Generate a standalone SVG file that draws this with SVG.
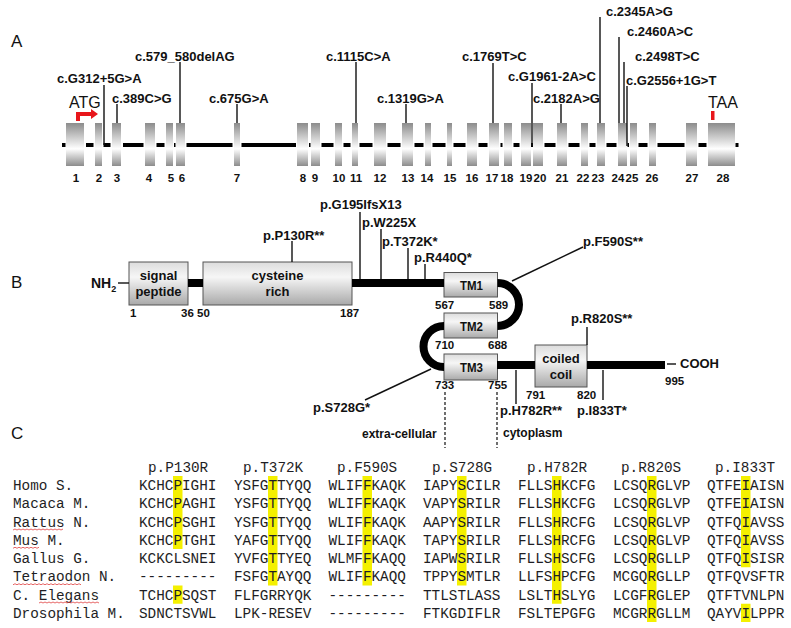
<svg xmlns="http://www.w3.org/2000/svg" width="791" height="628" viewBox="0 0 791 628">
<defs>
<linearGradient id="exg" x1="0" y1="0" x2="0" y2="1">
<stop offset="0" stop-color="#8c8c8c"/>
<stop offset="0.6" stop-color="#ffffff"/>
<stop offset="1" stop-color="#8c8c8c"/>
</linearGradient>
<linearGradient id="boxg" x1="0" y1="0" x2="0" y2="1">
<stop offset="0" stop-color="#dcdcdc"/>
<stop offset="0.35" stop-color="#f6f6f6"/>
<stop offset="1" stop-color="#a9a9a9"/>
</linearGradient>
</defs>
<style>
.lbl{font-family:"Liberation Sans",Arial,sans-serif;font-weight:bold;font-size:13px;fill:#111}
.num{font-family:"Liberation Sans",Arial,sans-serif;font-weight:bold;font-size:11.5px;fill:#111}
.tm{font-family:"Liberation Sans",Arial,sans-serif;font-weight:bold;font-size:13.5px;fill:#111}
.pan{font-family:"Liberation Sans",Arial,sans-serif;font-size:17px;fill:#111}
.big{font-family:"Liberation Sans",Arial,sans-serif;font-size:16px;fill:#111}
.mono{font-family:"Liberation Mono","Courier New",monospace;font-size:14.33px;fill:#1e1e24}
.ex{fill:url(#exg)}
.intr{fill:#000}
.ml{stroke:#111;stroke-width:1.4;fill:none}
.bb{stroke:#000;stroke-width:8;fill:none}
.box{fill:url(#boxg);stroke:#555;stroke-width:1}
.dash{stroke:#222;stroke-width:1.3;stroke-dasharray:3,2;fill:none}
.hl{fill:#f4f000}
.sq{stroke:#e04040;stroke-width:0.8;fill:none}
.red{fill:#e8161b}
</style>
<rect width="791" height="628" fill="#fff"/>

<!-- Panel letters -->
<text class="pan" x="11" y="47">A</text>
<text class="pan" x="11" y="288">B</text>
<text class="pan" x="11" y="439">C</text>

<!-- Panel A: gene structure -->
<g id="gene-line">
<rect class="intr" x="62" y="143" width="3.5" height="4"/>
<rect class="intr" x="86" y="143" width="7.5" height="4"/>
<rect class="intr" x="103.5" y="143" width="7" height="4"/>
<rect class="intr" x="123" y="143" width="20.5" height="4"/>
<rect class="intr" x="156.5" y="143" width="8" height="4"/>
<rect class="intr" x="174" y="143" width="1.5" height="4"/>
<rect class="intr" x="186.5" y="143" width="46" height="4"/>
<rect class="intr" x="241.5" y="143" width="54.5" height="4"/>
<rect class="intr" x="309" y="143" width="1.5" height="4"/>
<rect class="intr" x="321.5" y="143" width="12" height="4"/>
<rect class="intr" x="343.5" y="143" width="7" height="4"/>
<rect class="intr" x="359.5" y="143" width="13" height="4"/>
<rect class="intr" x="387.5" y="143" width="13" height="4"/>
<rect class="intr" x="414.5" y="143" width="9" height="4"/>
<rect class="intr" x="432.5" y="143" width="13" height="4"/>
<rect class="intr" x="453.5" y="143" width="12" height="4"/>
<rect class="intr" x="478.5" y="143" width="9" height="4"/>
<rect class="intr" x="500.5" y="143" width="2" height="4"/>
<rect class="intr" x="513.5" y="143" width="6" height="4"/>
<rect class="intr" x="531" y="143" width="2" height="4"/>
<rect class="intr" x="544.5" y="143" width="11" height="4"/>
<rect class="intr" x="568.5" y="143" width="11" height="4"/>
<rect class="intr" x="589.5" y="143" width="6" height="4"/>
<rect class="intr" x="606.5" y="143" width="10" height="4"/>
<rect class="intr" x="627.5" y="143" width="1.5" height="4"/>
<rect class="intr" x="638.5" y="143" width="9" height="4"/>
<rect class="intr" x="657.5" y="143" width="27" height="4"/>
<rect class="intr" x="698.5" y="143" width="8" height="4"/>
<rect class="intr" x="735.5" y="143" width="3" height="4"/>
</g>

<g id="exons">
<rect class="ex" x="66" y="123" width="18" height="43"/>
<rect class="ex" x="95" y="123" width="7" height="43"/>
<rect class="ex" x="112" y="123" width="9" height="43"/>
<rect class="ex" x="145" y="123" width="10" height="43"/>
<rect class="ex" x="166" y="123" width="7" height="43"/>
<rect class="ex" x="176" y="123" width="9" height="43"/>
<rect class="ex" x="234" y="123" width="6" height="43"/>
<rect class="ex" x="297" y="123" width="11" height="43"/>
<rect class="ex" x="311" y="123" width="9" height="43"/>
<rect class="ex" x="335" y="123" width="7" height="43"/>
<rect class="ex" x="352" y="123" width="6" height="43"/>
<rect class="ex" x="374" y="123" width="12" height="43"/>
<rect class="ex" x="402" y="123" width="11" height="43"/>
<rect class="ex" x="425" y="123" width="6" height="43"/>
<rect class="ex" x="447" y="123" width="5" height="43"/>
<rect class="ex" x="467" y="123" width="10" height="43"/>
<rect class="ex" x="489" y="123" width="10" height="43"/>
<rect class="ex" x="504" y="123" width="8" height="43"/>
<rect class="ex" x="521" y="123" width="10" height="43"/>
<rect class="ex" x="533" y="123" width="10" height="43"/>
<rect class="ex" x="557" y="123" width="10" height="43"/>
<rect class="ex" x="581" y="123" width="7" height="43"/>
<rect class="ex" x="597" y="123" width="8" height="43"/>
<rect class="ex" x="618" y="123" width="9" height="43"/>
<rect class="ex" x="630" y="123" width="7" height="43"/>
<rect class="ex" x="649" y="123" width="7" height="43"/>
<rect class="ex" x="686" y="123" width="11" height="43"/>
<rect class="ex" x="708" y="123" width="27" height="43"/>
</g>

<g id="exon-numbers" class="num" text-anchor="middle">
<text x="76" y="182">1</text><text x="99" y="182">2</text><text x="117" y="182">3</text>
<text x="149" y="182">4</text><text x="171" y="182">5</text><text x="182" y="182">6</text>
<text x="237" y="182">7</text><text x="303" y="182">8</text><text x="315" y="182">9</text>
<text x="339" y="182">10</text><text x="356" y="182">11</text><text x="380" y="182">12</text>
<text x="408" y="182">13</text><text x="427" y="182">14</text><text x="450" y="182">15</text>
<text x="472" y="182">16</text><text x="492" y="182">17</text><text x="507" y="182">18</text>
<text x="526" y="182">19</text><text x="540" y="182">20</text><text x="562" y="182">21</text>
<text x="583" y="182">22</text><text x="598" y="182">23</text><text x="618" y="182">24</text>
<text x="632" y="182">25</text><text x="652" y="182">26</text><text x="692" y="182">27</text>
<text x="723" y="182">28</text>
</g>

<g id="start-stop">
<text class="big" x="69" y="108">ATG</text>
<rect class="red" x="76" y="112" width="4" height="9"/>
<rect class="red" x="76" y="112" width="16" height="4"/>
<polygon class="red" points="91,109 98,114 91,119"/>
<text class="big" x="708" y="108">TAA</text>
<rect class="red" x="711" y="111" width="3.5" height="9"/>
</g>

<g id="dna-mutations" class="lbl">
<text x="57" y="83">c.G312+5G&gt;A</text>
<text x="112" y="103">c.389C&gt;G</text>
<text x="135" y="61">c.579_580delAG</text>
<text x="209" y="103">c.675G&gt;A</text>
<text x="326" y="61">c.1115C&gt;A</text>
<text x="377" y="103">c.1319G&gt;A</text>
<text x="462" y="61">c.1769T&gt;C</text>
<text x="508" y="81">c.G1961-2A&gt;C</text>
<text x="533" y="103">c.2182A&gt;G</text>
<text x="606" y="16">c.2345A&gt;G</text>
<text x="627" y="36">c.2460A&gt;C</text>
<text x="635" y="61">c.2498T&gt;C</text>
<text x="626" y="84.5">c.G2556+1G&gt;T</text>
</g>

<!-- Panel B: protein -->
<g id="nh2">
<text class="lbl" x="91" y="288" style="font-size:14px">NH<tspan dy="4" style="font-size:9px">2</tspan></text>
</g>
<g id="signal-peptide">
<rect class="box" x="129" y="262" width="59" height="43"/>
<text class="lbl" x="158.5" y="280" text-anchor="middle">signal</text>
<text class="lbl" x="158.5" y="296" text-anchor="middle">peptide</text>
</g>
<g id="cysteine-rich">
<rect class="box" x="203" y="262" width="149" height="43"/>
<text class="lbl" x="277.5" y="280" text-anchor="middle">cysteine</text>
<text class="lbl" x="277.5" y="296" text-anchor="middle">rich</text>
</g>
<g id="tm1">
<rect class="box" x="444" y="272.5" width="53.5" height="24.5"/>
<text class="tm" x="460" y="289.5" textLength="23" lengthAdjust="spacingAndGlyphs">TM1</text>
</g>
<g id="tm2">
<rect class="box" x="444" y="313" width="53.5" height="25"/>
<text class="tm" x="460" y="330.5" textLength="23" lengthAdjust="spacingAndGlyphs">TM2</text>
</g>
<g id="tm3">
<rect class="box" x="444" y="354" width="53.5" height="26"/>
<text class="tm" x="460" y="372" textLength="23" lengthAdjust="spacingAndGlyphs">TM3</text>
</g>
<g id="coiled-coil">
<rect class="box" x="535" y="345" width="52" height="42"/>
<text class="lbl" x="561" y="363" text-anchor="middle">coiled</text>
<text class="lbl" x="561" y="379" text-anchor="middle">coil</text>
</g>
<g id="cooh">
<text class="lbl" x="680" y="368">COOH</text>
</g>

<g id="connectors">
<line class="ml" x1="118" y1="283" x2="129" y2="283"/>
<line class="bb" x1="188" y1="283" x2="203" y2="283"/>
<line class="bb" x1="352" y1="283" x2="444" y2="283"/>
<path class="bb" d="M497.5,283 A21.5,21.5 0 0 1 497.5,326"/>
<path class="bb" d="M444,326 A20.5,20.5 0 0 0 444,367"/>
<line class="bb" x1="497" y1="365" x2="535" y2="365"/>
<line class="bb" x1="587" y1="365" x2="665" y2="365"/>
<line class="ml" x1="667" y1="364" x2="676" y2="364"/>
<line class="dash" x1="445" y1="392" x2="445" y2="448"/>
<line class="dash" x1="497" y1="392" x2="497" y2="448"/>
<!-- DNA mutation pointers -->
<line class="ml" x1="104" y1="85" x2="104" y2="145"/>
<line class="ml" x1="117" y1="104" x2="117" y2="123"/>
<line class="ml" x1="180" y1="62" x2="180" y2="123"/>
<line class="ml" x1="237" y1="104" x2="237" y2="123"/>
<line class="ml" x1="356" y1="62" x2="356" y2="123"/>
<line class="ml" x1="406" y1="104" x2="406" y2="123"/>
<line class="ml" x1="493" y1="63" x2="493" y2="123"/>
<line class="ml" x1="532" y1="83" x2="532" y2="146"/>
<line class="ml" x1="561" y1="104" x2="561" y2="123"/>
<line class="ml" x1="600" y1="17" x2="600" y2="123"/>
<line class="ml" x1="619" y1="37" x2="619" y2="123"/>
<line class="ml" x1="624" y1="62" x2="624" y2="123"/>
<line class="ml" x1="627" y1="86" x2="627" y2="146"/>
<!-- protein mutation pointers -->
<line class="ml" x1="292" y1="241" x2="292" y2="262"/>
<line class="ml" x1="360" y1="212" x2="360" y2="279"/>
<line class="ml" x1="381" y1="229" x2="381" y2="279"/>
<line class="ml" x1="408" y1="248" x2="408" y2="279"/>
<line class="ml" x1="425" y1="264" x2="425" y2="279"/>
<line class="ml" x1="512" y1="281" x2="583" y2="247"/>
<line class="ml" x1="587" y1="327" x2="587" y2="345"/>
<line class="ml" x1="365" y1="400" x2="431" y2="369"/>
<line class="ml" x1="516" y1="370" x2="516" y2="404"/>
<line class="ml" x1="603" y1="370" x2="603" y2="400"/>
</g>

<g id="protein-numbers" class="num">
<text x="130" y="317">1</text>
<text x="181" y="317">36</text>
<text x="197" y="317">50</text>
<text x="340" y="317">187</text>
<text x="435" y="309">567</text>
<text x="489" y="309">589</text>
<text x="435" y="349">710</text>
<text x="488" y="349">688</text>
<text x="435" y="389">733</text>
<text x="488" y="389">755</text>
<text x="526" y="399">791</text>
<text x="577" y="399">820</text>
<text x="665" y="385">995</text>
</g>

<g id="protein-mutations" class="lbl">
<text x="263" y="239.5">p.P130R**</text>
<text x="320" y="209">p.G195IfsX13</text>
<text x="362" y="227">p.W225X</text>
<text x="382" y="246">p.T372K*</text>
<text x="414" y="262">p.R440Q*</text>
<text x="583" y="246">p.F590S**</text>
<text x="571" y="323">p.R820S**</text>
<text x="313" y="412">p.S728G*</text>
<text x="500" y="415">p.H782R**</text>
<text x="577" y="415">p.I833T*</text>
</g>

<g id="membrane-labels" class="lbl" style="font-size:12px">
<text x="362" y="438">extra-cellular</text>
<text x="503" y="437">cytoplasm</text>
</g>

<!-- Panel C: alignment -->
<g id="highlights">
<rect class="hl" x="173" y="476" width="9.5" height="73"/>
<rect class="hl" x="173" y="585.5" width="9.5" height="18.25"/>
<rect class="hl" x="268" y="476" width="9.5" height="109.5"/>
<rect class="hl" x="362.5" y="476" width="9.5" height="109.5"/>
<rect class="hl" x="457" y="476" width="9.5" height="109.5"/>
<rect class="hl" x="552" y="476" width="9.5" height="127.75"/>
<rect class="hl" x="647" y="476" width="9.5" height="146"/>
<rect class="hl" x="741" y="476" width="9.5" height="91.25"/>
<rect class="hl" x="741" y="603.75" width="9.5" height="18.25"/>
</g>

<g id="alignment" class="mono">
<text x="148" y="472">p.P130R</text>
<text x="243" y="472">p.T372K</text>
<text x="337" y="472">p.F590S</text>
<text x="432" y="472">p.S728G</text>
<text x="527" y="472">p.H782R</text>
<text x="621" y="472">p.R820S</text>
<text x="715" y="472">p.I833T</text>

<text x="13" y="490">Homo S.</text>
<text x="13" y="508.25">Macaca M.</text>
<text x="13" y="526.5">Rattus N.</text>
<text x="13" y="544.75">Mus M.</text>
<text x="13" y="563">Gallus G.</text>
<text x="13" y="581.25">Tetraodon N.</text>
<text x="13" y="599.5">C. Elegans</text>
<text x="13" y="617.75">Drosophila M.</text>

<text x="139" y="490">KCHCPIGHI</text>
<text x="139" y="508.25">KCHCPAGHI</text>
<text x="139" y="526.5">KCHCPSGHI</text>
<text x="139" y="544.75">KCHCPTGHI</text>
<text x="139" y="563">KCKCLSNEI</text>
<text x="139" y="581.25">---------</text>
<text x="139" y="599.5">TCHCPSQST</text>
<text x="139" y="617.75">SDNCTSVWL</text>

<text x="234" y="490">YSFGTTYQQ</text>
<text x="234" y="508.25">YSFGTTYQQ</text>
<text x="234" y="526.5">YSFGTTYQQ</text>
<text x="234" y="544.75">YAFGTTYQQ</text>
<text x="234" y="563">YVFGTTYEQ</text>
<text x="234" y="581.25">FSFGTAYQQ</text>
<text x="234" y="599.5">FLFGRRYQK</text>
<text x="234" y="617.75">LPK-RESEV</text>

<text x="328.5" y="490">WLIFFKAQK</text>
<text x="328.5" y="508.25">WLIFFKAQK</text>
<text x="328.5" y="526.5">WLIFFKAQK</text>
<text x="328.5" y="544.75">WLIFFKAQK</text>
<text x="328.5" y="563">WLMFFKAQQ</text>
<text x="328.5" y="581.25">WLIFFKAQQ</text>
<text x="328.5" y="599.5">---------</text>
<text x="328.5" y="617.75">---------</text>

<text x="423" y="490">IAPYSCILR</text>
<text x="423" y="508.25">VAPYSRILR</text>
<text x="423" y="526.5">AAPYSRILR</text>
<text x="423" y="544.75">TAPYSRILR</text>
<text x="423" y="563">IAPWSRILR</text>
<text x="423" y="581.25">TPPYSMTLR</text>
<text x="423" y="599.5">TTLSTLASS</text>
<text x="423" y="617.75">FTKGDIFLR</text>

<text x="518" y="490">FLLSHKCFG</text>
<text x="518" y="508.25">FLLSHKCFG</text>
<text x="518" y="526.5">FLLSHRCFG</text>
<text x="518" y="544.75">FLLSHRCFG</text>
<text x="518" y="563">FLLSHSCFG</text>
<text x="518" y="581.25">LLFSHPCFG</text>
<text x="518" y="599.5">LSLTHSLYG</text>
<text x="518" y="617.75">FSLTEPGFG</text>

<text x="613" y="490">LCSQRGLVP</text>
<text x="613" y="508.25">LCSQRGLVP</text>
<text x="613" y="526.5">LCSQRGLVP</text>
<text x="613" y="544.75">LCSQRGLVP</text>
<text x="613" y="563">LCSQRGLLP</text>
<text x="613" y="581.25">MCGQRGLLP</text>
<text x="613" y="599.5">LCGFRGLEP</text>
<text x="613" y="617.75">MCGRRGLLM</text>

<text x="707" y="490">QTFEIAISN</text>
<text x="707" y="508.25">QTFEIAISN</text>
<text x="707" y="526.5">QTFQIAVSS</text>
<text x="707" y="544.75">QTFQIAVSS</text>
<text x="707" y="563">QTFQISISR</text>
<text x="707" y="581.25">QTFQVSFTR</text>
<text x="707" y="599.5">QTFTVNLPN</text>
<text x="707" y="617.75">QAYVILPPR</text>
</g>

<g id="spell-marks">
<path class="sq" d="M13,530 l2,-1 2,1 2,-1 2,1 2,-1 2,1 2,-1 2,1 2,-1 2,1 2,-1 2,1 2,-1 2,1 2,-1 2,1 2,-1 2,1 2,-1 2,1 2,-1 2,1 2,-1 2,1 2,-1"/>
<path class="sq" d="M13,548.25 l2,-1 2,1 2,-1 2,1 2,-1 2,1 2,-1 2,1 2,-1 2,1 2,-1 2,1 2,-1"/>
<path class="sq" d="M13,584.75 l2,-1 2,1 2,-1 2,1 2,-1 2,1 2,-1 2,1 2,-1 2,1 2,-1 2,1 2,-1 2,1 2,-1 2,1 2,-1 2,1 2,-1 2,1 2,-1 2,1 2,-1 2,1 2,-1 2,1 2,-1 2,1 2,-1 2,1 2,-1 2,1 2,-1 2,1"/>
<path class="sq" d="M39,603 l2,-1 2,1 2,-1 2,1 2,-1 2,1 2,-1 2,1 2,-1 2,1 2,-1 2,1 2,-1 2,1 2,-1 2,1 2,-1 2,1 2,-1 2,1 2,-1 2,1 2,-1 2,1 2,-1 2,1 2,-1 2,1 2,-1 2,1"/>
</g>
</svg>
